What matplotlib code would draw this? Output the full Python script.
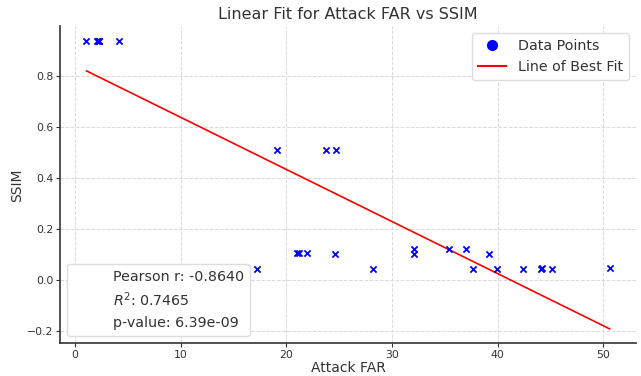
import numpy as np
import matplotlib.pyplot as plt
from matplotlib.lines import Line2D
from matplotlib.patches import Rectangle

# values (a few points overlap)
attack_far = [1.1, 2.1, 2.2, 2.3, 2.3, 4.2, 19.1, 23.8, 24.7, 17.2, 21.0,
              21.2, 22.0, 24.6, 28.2, 32.1, 32.1, 35.4, 37.0, 37.7, 39.2,
              39.9, 42.4, 44.1, 44.2, 45.1, 50.6]
ssim = [0.940, 0.940, 0.940, 0.940, 0.940, 0.938, 0.510, 0.510, 0.510, 0.043,
        0.106, 0.106, 0.106, 0.102, 0.045, 0.125, 0.104, 0.125, 0.125, 0.043,
        0.102, 0.045, 0.045, 0.045, 0.048, 0.045, 0.047]
stat_lines = ["Pearson r: -0.8640", "$R^2$: 0.7465", "p-value: 6.39e-09"]

x = np.array(attack_far)
y = np.array(ssim)
slope, intercept = np.polyfit(x, y, 1)
xs = np.array([x.min(), x.max()])

fig, ax = plt.subplots(figsize=(6.41, 3.76), dpi=100)
fig.patch.set_facecolor("white")

ax.scatter(x, y, marker="x", color="blue", s=20, linewidths=1.3, zorder=3)
ax.plot(xs, slope * xs + intercept, color="red", linewidth=1.2, zorder=2)

ax.grid(True, linestyle="--", color="#d9d9d9", linewidth=0.7)
ax.set_axisbelow(True)
for s in ["top", "right"]:
    ax.spines[s].set_visible(False)
for s in ["left", "bottom"]:
    ax.spines[s].set_color("#333333")
    ax.spines[s].set_linewidth(1.2)
ax.tick_params(colors="#333333", labelsize=7.8, length=3, pad=2)
ax.tick_params(axis="x", pad=1.5)

ax.set_title("Linear Fit for Attack FAR vs SSIM", fontsize=11.5, color="#333333", pad=5)
ax.set_xlabel("Attack FAR", fontsize=10, color="#333333", labelpad=1)
ax.set_ylabel("SSIM", fontsize=10, color="#333333", labelpad=2)
ax.set_xticks([0, 10, 20, 30, 40, 50])

handles = [Line2D([], [], marker="o", color="blue", linestyle="none", markersize=7),
           Line2D([], [], color="red", linewidth=1.5)]
leg = ax.legend(handles, ["Data Points", "Line of Best Fit"], loc="upper right",
                fontsize=10.3, labelcolor="#333333", framealpha=1, edgecolor="#dddddd")
ax.add_artist(leg)

blank = [Rectangle((0, 0), 1, 1, fc="none", ec="none") for _ in stat_lines]
ax.legend(blank, stat_lines, loc="lower left", fontsize=10.3, labelcolor="#333333",
          framealpha=1, edgecolor="#dddddd", handlelength=2.0)

fig.subplots_adjust(left=0.094, right=0.992, top=0.93, bottom=0.087)
fig.savefig("out.png", dpi=100)
